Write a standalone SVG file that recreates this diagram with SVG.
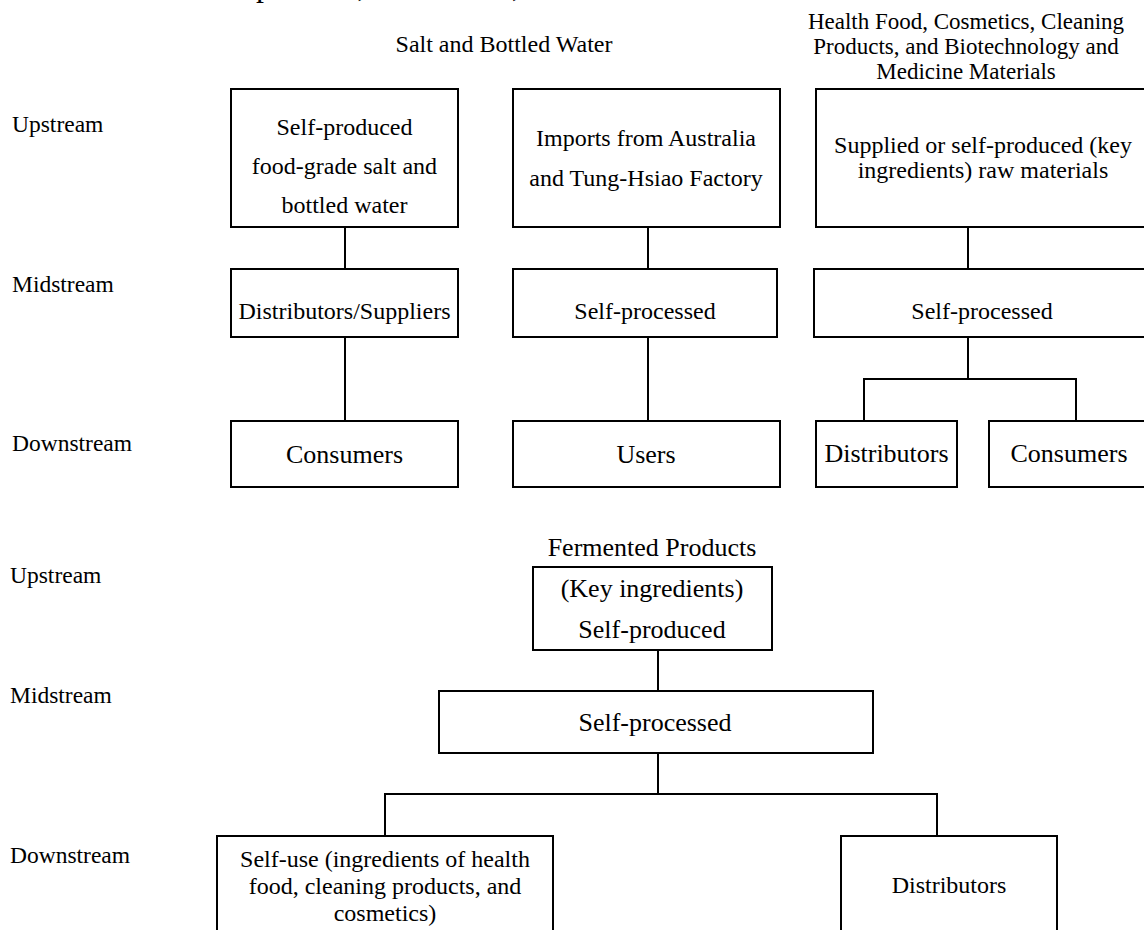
<svg xmlns="http://www.w3.org/2000/svg" width="1144" height="930" viewBox="0 0 1144 930">
<style>
text{font-family:"Liberation Serif","Times New Roman",serif;fill:#000}
.lbl{font-size:23.5px}
.t{font-size:24px;text-anchor:middle}
.h{font-size:23px;text-anchor:middle}
.b{font-size:26px;text-anchor:middle}
.box{fill:#fff;stroke:#000;stroke-width:2}
.ln{fill:none;stroke:#000;stroke-width:2}
</style>
<rect width="1144" height="930" fill="#fff"/>
<text id="title" x="233" y="-4" style="font-size:32px">Upstream, Midstream, and Downstream</text>
<g id="labels">
<text class="lbl" x="12" y="132">Upstream</text>
<text class="lbl" x="12" y="292">Midstream</text>
<text class="lbl" x="12" y="451">Downstream</text>
<text class="lbl" x="10" y="583">Upstream</text>
<text class="lbl" x="10" y="703">Midstream</text>
<text class="lbl" x="10" y="863">Downstream</text>
</g>
<g id="headings">
<text class="t" x="504" y="52">Salt and Bottled Water</text>
<text class="h" x="966" y="29">Health Food, Cosmetics, Cleaning</text>
<text class="h" x="966" y="54">Products, and Biotechnology and</text>
<text class="h" x="966" y="79">Medicine Materials</text>
<text class="b" x="652" y="556">Fermented Products</text>
</g>
<g id="connectors">
<path class="ln" d="M345 227V269M345 337V421"/>
<path class="ln" d="M648 227V269M648 337V421"/>
<path class="ln" d="M968 227V269M968 337V379M864 421V379H1076V421"/>
<path class="ln" d="M658 650V691M658 753V794M385 836V794H937V836"/>
</g>
<g id="n1"><rect class="box" x="231" y="89" width="227" height="138"/>
<text class="t" x="344.5" y="135">Self-produced</text>
<text class="t" x="344.5" y="174">food-grade salt and</text>
<text class="t" x="344.5" y="213">bottled water</text></g>
<g id="n2"><rect class="box" x="513" y="89" width="267" height="138"/>
<text class="t" x="646" y="146">Imports from Australia</text>
<text class="t" x="646" y="186">and Tung-Hsiao Factory</text></g>
<g id="n3"><rect class="box" x="816" y="89" width="334" height="138"/>
<text class="t" x="983" y="153">Supplied or self-produced (key</text>
<text class="t" x="983" y="178">ingredients) raw materials</text></g>
<g id="n4"><rect class="box" x="231" y="269" width="227" height="68"/>
<text class="t" x="344.5" y="319">Distributors/Suppliers</text></g>
<g id="n5"><rect class="box" x="513" y="269" width="264" height="68"/>
<text class="t" x="645" y="319">Self-processed</text></g>
<g id="n6"><rect class="box" x="814" y="269" width="336" height="68"/>
<text class="t" x="982" y="319">Self-processed</text></g>
<g id="n7"><rect class="box" x="231" y="421" width="227" height="66"/>
<text class="b" x="344.5" y="463">Consumers</text></g>
<g id="n8"><rect class="box" x="513" y="421" width="267" height="66"/>
<text class="b" x="646" y="463">Users</text></g>
<g id="n9"><rect class="box" x="816" y="421" width="141" height="66"/>
<text class="b" x="886.5" y="462">Distributors</text></g>
<g id="n10"><rect class="box" x="989" y="421" width="161" height="66"/>
<text class="b" x="1069" y="462">Consumers</text></g>
<g id="n11"><rect class="box" x="533" y="567" width="239" height="83"/>
<text class="b" x="652" y="597">(Key ingredients)</text>
<text class="b" x="652" y="638">Self-produced</text></g>
<g id="n12"><rect class="box" x="439" y="691" width="434" height="62"/>
<text class="b" x="655" y="731">Self-processed</text></g>
<g id="n13"><rect class="box" x="217" y="836" width="336" height="110"/>
<text class="t" x="385" y="867">Self-use (ingredients of health</text>
<text class="t" x="385" y="894">food, cleaning products, and</text>
<text class="t" x="385" y="921">cosmetics)</text></g>
<g id="n14"><rect class="box" x="841" y="836" width="216" height="110"/>
<text class="t" x="949" y="893">Distributors</text></g>
</svg>
